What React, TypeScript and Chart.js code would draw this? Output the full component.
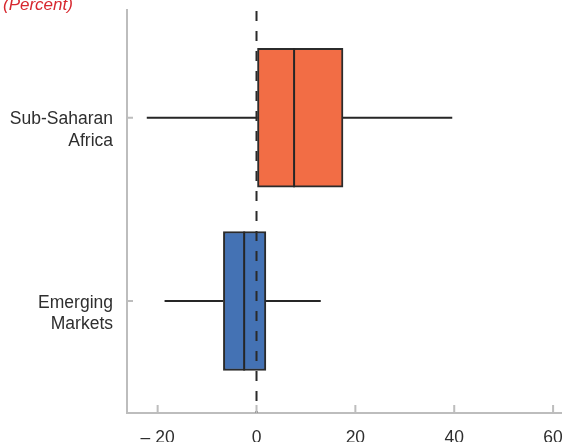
import React, { useEffect, useRef } from "react";
import { Chart, registerables } from "chart.js";

Chart.register(...registerables);

const categories: string[][] = [["Sub-Saharan", "Africa"], ["Emerging", "Markets"]];
const categoryPositions = [1, 0];
const whiskerLow = [-22.2, -18.6];
const q1 = [0.2, -6.7];
const median = [7.6, -2.5];
const q3 = [17.5, 1.9];
const whiskerHigh = [39.6, 13.0];
const boxColors = ["#F26D45", "#4472B4"];
const xTickValues = [-20, 0, 20, 40, 60];
const xTickLabels = ["\u2013 20", "0", "20", "40", "60"];
const titleText = "(Percent)";

const FONT = "'Liberation Sans', Arial, sans-serif";
const AXIS_GRAY = "#bdbdbd";

const boxPlugin = {
  id: "boxExtras",
  afterDatasetsDraw(chart: any) {
    const { ctx, chartArea, scales } = chart;
    const x = scales.x;
    const y = scales.y;
    const meta = chart.getDatasetMeta(0);
    ctx.save();
    ctx.strokeStyle = "#262626";
    ctx.lineWidth = 2;
    categoryPositions.forEach((pos, i) => {
      const cy = y.getPixelForValue(pos);
      const h = meta.data[i] ? meta.data[i].height : 0;
      ctx.beginPath();
      ctx.moveTo(x.getPixelForValue(whiskerLow[i]), cy);
      ctx.lineTo(x.getPixelForValue(q1[i]), cy);
      ctx.moveTo(x.getPixelForValue(q3[i]), cy);
      ctx.lineTo(x.getPixelForValue(whiskerHigh[i]), cy);
      ctx.stroke();
      const mx = x.getPixelForValue(median[i]);
      ctx.beginPath();
      ctx.moveTo(mx, cy - h / 2);
      ctx.lineTo(mx, cy + h / 2);
      ctx.stroke();
    });
    // zero reference line
    const zx = x.getPixelForValue(0);
    ctx.strokeStyle = "#2a2a2a";
    ctx.setLineDash([10, 10]);
    ctx.beginPath();
    ctx.moveTo(zx, chartArea.top + 1);
    ctx.lineTo(zx, chartArea.bottom);
    ctx.stroke();
    ctx.restore();
  },
  afterDraw(chart: any) {
    const { ctx, chartArea, scales } = chart;
    const x = scales.x;
    const y = scales.y;
    ctx.save();
    ctx.strokeStyle = AXIS_GRAY;
    ctx.lineWidth = 2;
    ctx.beginPath();
    xTickValues.forEach((v) => {
      const px = x.getPixelForValue(v);
      ctx.moveTo(px, chartArea.bottom);
      ctx.lineTo(px, chartArea.bottom - 8);
    });
    categoryPositions.forEach((p) => {
      const py = y.getPixelForValue(p);
      ctx.moveTo(chartArea.left, py);
      ctx.lineTo(chartArea.left + 6, py);
    });
    ctx.stroke();
    ctx.fillStyle = "#d7282f";
    ctx.font = `italic 17px ${FONT}`;
    ctx.textBaseline = "alphabetic";
    ctx.textAlign = "left";
    ctx.fillText(titleText, 3, 10);
    ctx.restore();
  },
};

export default function App() {
  const canvasRef = useRef<HTMLCanvasElement | null>(null);

  useEffect(() => {
    if (!canvasRef.current) return;
    const chart = new Chart(canvasRef.current, {
      type: "bar",
      data: {
        datasets: [
          {
            data: categoryPositions.map((p, i) => ({ x: [q1[i], q3[i]], y: p })) as any,
            backgroundColor: boxColors,
            borderColor: "#2b2b2b",
            borderWidth: 2,
            borderSkipped: false,
            barThickness: 139,
          },
        ],
      },
      options: {
        indexAxis: "y",
        animation: false,
        responsive: true,
        maintainAspectRatio: false,
        layout: { padding: { top: 10, right: 7, left: 0, bottom: 0 } },
        plugins: { legend: { display: false }, tooltip: { enabled: false }, title: { display: false } },
        scales: {
          x: {
            type: "linear",
            min: -26.2,
            max: 61.6,
            offset: false,
            grace: 0,
            grid: { display: false, drawTicks: false },
            border: { display: true, color: AXIS_GRAY, width: 2 },
            afterBuildTicks: (scale: any) => {
              scale.ticks = xTickValues.map((v) => ({ value: v }));
            },
            afterFit: (scale: any) => {
              scale.height = 29;
              scale.paddingLeft = 0;
              scale.paddingRight = 0;
            },
            ticks: {
              autoSkip: false,
              maxRotation: 0,
              padding: 15,
              color: "#2e2e2e",
              font: { family: FONT, size: 17.5 },
              callback: (v: any) => {
                const idx = xTickValues.indexOf(Number(v));
                return idx >= 0 ? xTickLabels[idx] : "";
              },
            },
          },
          y: {
            type: "linear",
            min: -0.611,
            max: 1.588,
            offset: false,
            grace: 0,
            grid: { display: false, drawTicks: false },
            border: { display: true, color: AXIS_GRAY, width: 2 },
            afterBuildTicks: (scale: any) => {
              scale.ticks = categoryPositions.map((v) => ({ value: v }));
            },
            afterFit: (scale: any) => {
              scale.width = 127;
              scale.paddingTop = 0;
              scale.paddingBottom = 0;
            },
            ticks: {
              autoSkip: false,
              padding: 14,
              labelOffset: 12.5,
              color: "#2e2e2e",
              font: { family: FONT, size: 17.5, lineHeight: 1.24 },
              callback: (v: any) => {
                const idx = categoryPositions.indexOf(Number(v));
                return idx >= 0 ? categories[idx] : "";
              },
            },
          },
        },
      },
      plugins: [boxPlugin],
    } as any);
    return () => chart.destroy();
  }, []);

  return (
    <div style={{ position: "fixed", left: 0, top: 0, width: 568, height: 442, background: "#ffffff" }}>
      <canvas ref={canvasRef} />
    </div>
  );
}
